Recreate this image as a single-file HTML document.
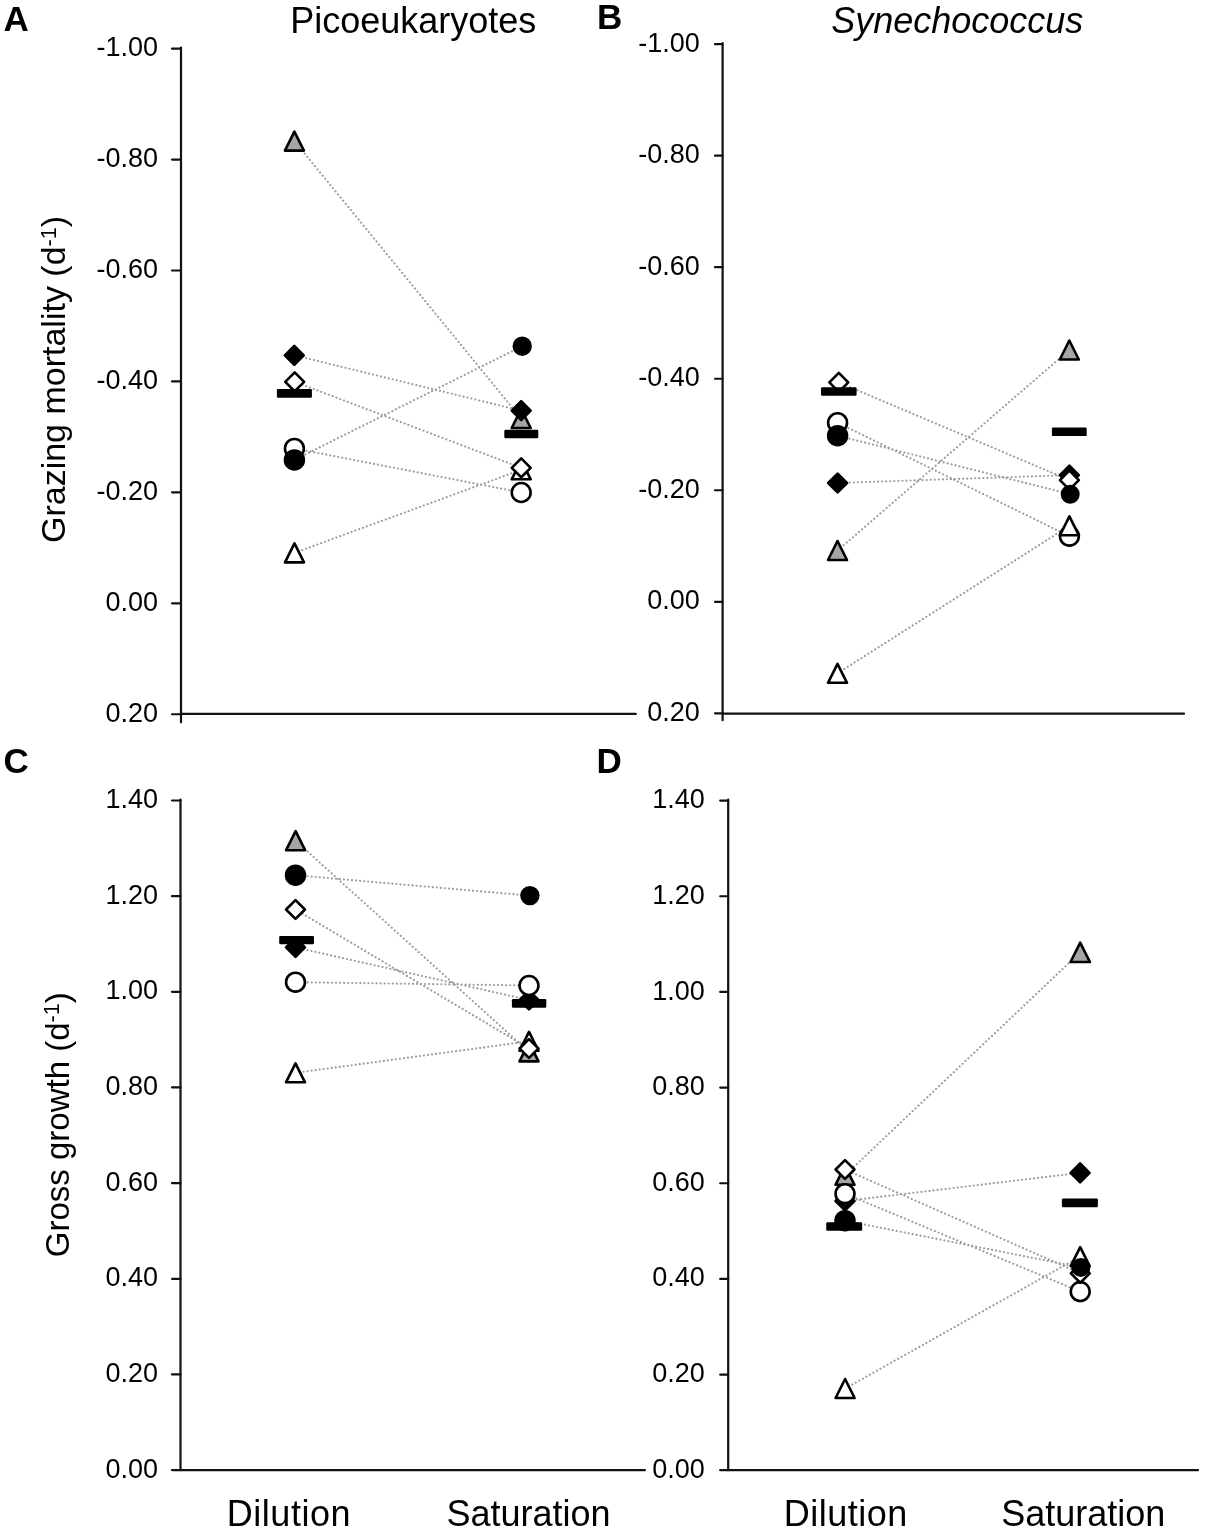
<!DOCTYPE html><html><head><meta charset="utf-8"><style>html,body{margin:0;padding:0;background:#fff;}svg{display:block;will-change:transform;}text{font-family:"Liberation Sans",sans-serif;fill:#000;}</style></head><body>
<svg width="1205" height="1534" viewBox="0 0 1205 1534">
<rect width="1205" height="1534" fill="#fff"/>
<path d="M181 47.65V722.3M181 713.9H635.8" stroke="#111" stroke-width="2.2" fill="none" stroke-linecap="round"/><path d="M172 48.65H181M172 159.58H181M172 270.51H181M172 381.44H181M172 492.37H181M172 603.3H181M172 714.23H181" stroke="#111" stroke-width="2.2" fill="none" stroke-linecap="round"/><text x="158" y="56.25" font-size="27" text-anchor="end">-1.00</text><text x="158" y="167.18" font-size="27" text-anchor="end">-0.80</text><text x="158" y="278.11" font-size="27" text-anchor="end">-0.60</text><text x="158" y="389.04" font-size="27" text-anchor="end">-0.40</text><text x="158" y="499.97" font-size="27" text-anchor="end">-0.20</text><text x="158" y="610.9" font-size="27" text-anchor="end">0.00</text><text x="158" y="721.83" font-size="27" text-anchor="end">0.20</text>
<path d="M722.6 43.15V720.2M722.6 713.7H1184" stroke="#111" stroke-width="2.2" fill="none" stroke-linecap="round"/><path d="M715 44.15H722.6M715 155.68H722.6M715 267.21H722.6M715 378.74H722.6M715 490.27H722.6M715 601.8H722.6M715 713.33H722.6" stroke="#111" stroke-width="2.2" fill="none" stroke-linecap="round"/><text x="699.8" y="51.75" font-size="27" text-anchor="end">-1.00</text><text x="699.8" y="163.28" font-size="27" text-anchor="end">-0.80</text><text x="699.8" y="274.81" font-size="27" text-anchor="end">-0.60</text><text x="699.8" y="386.34" font-size="27" text-anchor="end">-0.40</text><text x="699.8" y="497.87" font-size="27" text-anchor="end">-0.20</text><text x="699.8" y="609.4" font-size="27" text-anchor="end">0.00</text><text x="699.8" y="720.93" font-size="27" text-anchor="end">0.20</text>
<path d="M180.5 799.5V1470.1M180.5 1470.1H645" stroke="#111" stroke-width="2.2" fill="none" stroke-linecap="round"/><path d="M172 800.5H180.5M172 896.16H180.5M172 991.81H180.5M172 1087.47H180.5M172 1183.13H180.5M172 1278.78H180.5M172 1374.44H180.5M172 1470.1H180.5" stroke="#111" stroke-width="2.2" fill="none" stroke-linecap="round"/><text x="158" y="808.1" font-size="27" text-anchor="end">1.40</text><text x="158" y="903.76" font-size="27" text-anchor="end">1.20</text><text x="158" y="999.41" font-size="27" text-anchor="end">1.00</text><text x="158" y="1095.07" font-size="27" text-anchor="end">0.80</text><text x="158" y="1190.73" font-size="27" text-anchor="end">0.60</text><text x="158" y="1286.38" font-size="27" text-anchor="end">0.40</text><text x="158" y="1382.04" font-size="27" text-anchor="end">0.20</text><text x="158" y="1477.7" font-size="27" text-anchor="end">0.00</text>
<path d="M728.2 799.6V1470.2M728.2 1470.2H1198" stroke="#111" stroke-width="2.2" fill="none" stroke-linecap="round"/><path d="M720.2 800.6H728.2M720.2 896.26H728.2M720.2 991.91H728.2M720.2 1087.57H728.2M720.2 1183.23H728.2M720.2 1278.88H728.2M720.2 1374.54H728.2M720.2 1470.2H728.2" stroke="#111" stroke-width="2.2" fill="none" stroke-linecap="round"/><text x="704.8" y="808.2" font-size="27" text-anchor="end">1.40</text><text x="704.8" y="903.86" font-size="27" text-anchor="end">1.20</text><text x="704.8" y="999.51" font-size="27" text-anchor="end">1.00</text><text x="704.8" y="1095.17" font-size="27" text-anchor="end">0.80</text><text x="704.8" y="1190.83" font-size="27" text-anchor="end">0.60</text><text x="704.8" y="1286.48" font-size="27" text-anchor="end">0.40</text><text x="704.8" y="1382.14" font-size="27" text-anchor="end">0.20</text><text x="704.8" y="1477.8" font-size="27" text-anchor="end">0.00</text>
<path d="M294.4 141.1L521.2 418.5M294.3 355.3L521.2 410.7M294.4 448.4L521.2 492.5M294.5 552.9L521.2 469.8M294.7 381.8L521.2 467.8M294.4 459.9L522.2 346.2" stroke="#9c9c9c" stroke-width="2.1" stroke-dasharray="0.1 3.95" stroke-linecap="round" fill="none"/>
<path d="M294.4 131.6L303.9 150.6L284.9 150.6Z" fill="#a6a6a6" stroke="#000" stroke-width="2.6" stroke-linejoin="round"/>
<path d="M521.2 409L530.7 428L511.7 428Z" fill="#a6a6a6" stroke="#000" stroke-width="2.6" stroke-linejoin="round"/>
<path d="M294.3 345.85L303.75 355.3L294.3 364.75L284.85 355.3Z" fill="#000" stroke="#000" stroke-width="2.6" stroke-linejoin="round"/>
<path d="M521.2 401.25L530.65 410.7L521.2 420.15L511.75 410.7Z" fill="#000" stroke="#000" stroke-width="2.6" stroke-linejoin="round"/>
<circle cx="294.4" cy="448.4" r="9.45" fill="#fff" stroke="#000" stroke-width="2.6"/>
<circle cx="521.2" cy="492.5" r="9.45" fill="#fff" stroke="#000" stroke-width="2.6"/>
<path d="M294.5 543.4L304 562.4L285 562.4Z" fill="#fff" stroke="#000" stroke-width="2.6" stroke-linejoin="round"/>
<path d="M521.2 460.3L530.7 479.3L511.7 479.3Z" fill="#fff" stroke="#000" stroke-width="2.6" stroke-linejoin="round"/>
<path d="M294.7 372.35L304.15 381.8L294.7 391.25L285.25 381.8Z" fill="#fff" stroke="#000" stroke-width="2.6" stroke-linejoin="round"/>
<path d="M521.2 458.35L530.65 467.8L521.2 477.25L511.75 467.8Z" fill="#fff" stroke="#000" stroke-width="2.6" stroke-linejoin="round"/>
<circle cx="294.4" cy="459.9" r="9.45" fill="#000" stroke="#000" stroke-width="2.6"/>
<circle cx="522.2" cy="346.2" r="8.4" fill="#000" stroke="#000" stroke-width="2.6"/>
<rect x="276.9" y="389.1" width="35" height="8.6" rx="1.2" fill="#000"/>
<rect x="504.3" y="429.8" width="34" height="8.4" rx="1.2" fill="#000"/>
<path d="M837.5 550.5L1069.3 350M837.6 483L1069.4 475.1M837.6 422.7L1069.4 536.2M837.5 673.3L1069.4 525.8M838.8 382.4L1069.4 480.1M837.6 435.7L1070.2 494.2" stroke="#9c9c9c" stroke-width="2.1" stroke-dasharray="0.1 3.95" stroke-linecap="round" fill="none"/>
<path d="M837.5 541L847 560L828 560Z" fill="#a6a6a6" stroke="#000" stroke-width="2.6" stroke-linejoin="round"/>
<path d="M1069.3 340.5L1078.8 359.5L1059.8 359.5Z" fill="#a6a6a6" stroke="#000" stroke-width="2.6" stroke-linejoin="round"/>
<path d="M837.6 473.55L847.05 483L837.6 492.45L828.15 483Z" fill="#000" stroke="#000" stroke-width="2.6" stroke-linejoin="round"/>
<path d="M1069.4 465.65L1078.85 475.1L1069.4 484.55L1059.95 475.1Z" fill="#000" stroke="#000" stroke-width="2.6" stroke-linejoin="round"/>
<circle cx="837.6" cy="422.7" r="9.45" fill="#fff" stroke="#000" stroke-width="2.6"/>
<circle cx="1069.4" cy="536.2" r="9.45" fill="#fff" stroke="#000" stroke-width="2.6"/>
<path d="M837.5 663.8L847 682.8L828 682.8Z" fill="#fff" stroke="#000" stroke-width="2.6" stroke-linejoin="round"/>
<path d="M1069.4 516.3L1078.9 535.3L1059.9 535.3Z" fill="#fff" stroke="#000" stroke-width="2.6" stroke-linejoin="round"/>
<path d="M838.8 372.95L848.25 382.4L838.8 391.85L829.35 382.4Z" fill="#fff" stroke="#000" stroke-width="2.6" stroke-linejoin="round"/>
<path d="M1069.4 470.65L1078.85 480.1L1069.4 489.55L1059.95 480.1Z" fill="#fff" stroke="#000" stroke-width="2.6" stroke-linejoin="round"/>
<circle cx="837.6" cy="435.7" r="9.45" fill="#000" stroke="#000" stroke-width="2.6"/>
<circle cx="1070.2" cy="494.2" r="8.2" fill="#000" stroke="#000" stroke-width="2.6"/>
<rect x="821" y="387.3" width="35.6" height="8.4" rx="1.2" fill="#000"/>
<rect x="1051.9" y="427.5" width="34.8" height="8.6" rx="1.2" fill="#000"/>
<path d="M295.6 840.7L529 1051.9M295.5 947.4L529 1000M295.5 982.2L529 985.5M295.5 1072.8L529 1041.3M295.5 909.5L529 1048.5M295.5 875.2L529.9 895.6" stroke="#9c9c9c" stroke-width="2.1" stroke-dasharray="0.1 3.95" stroke-linecap="round" fill="none"/>
<path d="M295.6 831.2L305.1 850.2L286.1 850.2Z" fill="#a6a6a6" stroke="#000" stroke-width="2.6" stroke-linejoin="round"/>
<path d="M529 1042.4L538.5 1061.4L519.5 1061.4Z" fill="#a6a6a6" stroke="#000" stroke-width="2.6" stroke-linejoin="round"/>
<path d="M295.5 937.95L304.95 947.4L295.5 956.85L286.05 947.4Z" fill="#000" stroke="#000" stroke-width="2.6" stroke-linejoin="round"/>
<path d="M529 990.55L538.45 1000L529 1009.45L519.55 1000Z" fill="#000" stroke="#000" stroke-width="2.6" stroke-linejoin="round"/>
<circle cx="295.5" cy="982.2" r="9.45" fill="#fff" stroke="#000" stroke-width="2.6"/>
<circle cx="529" cy="985.5" r="9.45" fill="#fff" stroke="#000" stroke-width="2.6"/>
<path d="M295.5 1063.3L305 1082.3L286 1082.3Z" fill="#fff" stroke="#000" stroke-width="2.6" stroke-linejoin="round"/>
<path d="M529 1031.8L538.5 1050.8L519.5 1050.8Z" fill="#fff" stroke="#000" stroke-width="2.6" stroke-linejoin="round"/>
<path d="M295.5 900.05L304.95 909.5L295.5 918.95L286.05 909.5Z" fill="#fff" stroke="#000" stroke-width="2.6" stroke-linejoin="round"/>
<path d="M529 1039.05L538.45 1048.5L529 1057.95L519.55 1048.5Z" fill="#fff" stroke="#000" stroke-width="2.6" stroke-linejoin="round"/>
<circle cx="295.5" cy="875.2" r="9.45" fill="#000" stroke="#000" stroke-width="2.6"/>
<circle cx="529.9" cy="895.6" r="8.4" fill="#000" stroke="#000" stroke-width="2.6"/>
<rect x="279.2" y="935.9" width="34.8" height="8.4" rx="1.2" fill="#000"/>
<rect x="511.9" y="999.1" width="34.4" height="8.6" rx="1.2" fill="#000"/>
<path d="M845 1175.3L1080.2 952.3M845 1201L1080.1 1172.8M845 1193.7L1080.2 1291.6M845.1 1388.5L1080.2 1256.6M845 1169.5L1080.3 1273.3M845 1220.7L1080.8 1267.4" stroke="#9c9c9c" stroke-width="2.1" stroke-dasharray="0.1 3.95" stroke-linecap="round" fill="none"/>
<path d="M845 1165.8L854.5 1184.8L835.5 1184.8Z" fill="#a6a6a6" stroke="#000" stroke-width="2.6" stroke-linejoin="round"/>
<path d="M1080.2 942.6L1089.9 962L1070.5 962Z" fill="#a6a6a6" stroke="#000" stroke-width="2.6" stroke-linejoin="round"/>
<path d="M845 1191.55L854.45 1201L845 1210.45L835.55 1201Z" fill="#000" stroke="#000" stroke-width="2.6" stroke-linejoin="round"/>
<path d="M1080.1 1163.35L1089.55 1172.8L1080.1 1182.25L1070.65 1172.8Z" fill="#000" stroke="#000" stroke-width="2.6" stroke-linejoin="round"/>
<circle cx="845" cy="1193.7" r="9.45" fill="#fff" stroke="#000" stroke-width="2.6"/>
<circle cx="1080.2" cy="1291.6" r="9.45" fill="#fff" stroke="#000" stroke-width="2.6"/>
<path d="M845.1 1379L854.6 1398L835.6 1398Z" fill="#fff" stroke="#000" stroke-width="2.6" stroke-linejoin="round"/>
<path d="M1080.2 1247.1L1089.7 1266.1L1070.7 1266.1Z" fill="#fff" stroke="#000" stroke-width="2.6" stroke-linejoin="round"/>
<path d="M845 1160.05L854.45 1169.5L845 1178.95L835.55 1169.5Z" fill="#fff" stroke="#000" stroke-width="2.6" stroke-linejoin="round"/>
<path d="M1080.3 1263.85L1089.75 1273.3L1080.3 1282.75L1070.85 1273.3Z" fill="#fff" stroke="#000" stroke-width="2.6" stroke-linejoin="round"/>
<circle cx="845" cy="1220.7" r="9.45" fill="#000" stroke="#000" stroke-width="2.6"/>
<circle cx="1080.8" cy="1267.4" r="8.2" fill="#000" stroke="#000" stroke-width="2.6"/>
<rect x="826.25" y="1222.3" width="35.9" height="8.4" rx="1.2" fill="#000"/>
<rect x="1061.9" y="1198.5" width="36" height="8.8" rx="1.2" fill="#000"/>
<text x="413.2" y="32.5" font-size="36" text-anchor="middle">Picoeukaryotes</text>
<text x="957.2" y="32.5" font-size="36" text-anchor="middle" font-style="italic">Synechococcus</text>
<text x="3.5" y="30.9" font-size="35" font-weight="bold">A</text>
<text x="597" y="28.9" font-size="35" font-weight="bold">B</text>
<text x="3.5" y="772.5" font-size="35" font-weight="bold">C</text>
<text x="596.5" y="772.5" font-size="35" font-weight="bold">D</text>
<text x="288.9" y="1526" font-size="36" text-anchor="middle" letter-spacing="0.5">Dilution</text>
<text x="528.5" y="1526" font-size="36" text-anchor="middle">Saturation</text>
<text x="845.8" y="1526" font-size="36" text-anchor="middle" letter-spacing="0.5">Dilution</text>
<text x="1083.2" y="1526" font-size="36" text-anchor="middle">Saturation</text>
<text transform="translate(65.2 379.5) rotate(-90)" font-size="34" text-anchor="middle">Grazing mortality (d<tspan font-size="21.5" dy="-9.5">-1</tspan><tspan dy="9.5">)</tspan></text>
<text transform="translate(68.7 1124.8) rotate(-90)" font-size="33" text-anchor="middle">Gross growth (d<tspan font-size="21.5" dy="-9.5">-1</tspan><tspan dy="9.5">)</tspan></text>
</svg></body></html>
